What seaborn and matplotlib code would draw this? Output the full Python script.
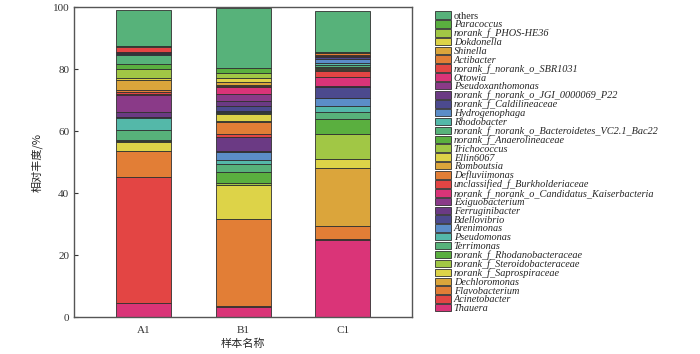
import numpy as np
import pandas as pd
import matplotlib
matplotlib.use("Agg")
import matplotlib.pyplot as plt
import seaborn as sns
from matplotlib.patches import Patch

# stack order, bottom -> top
taxa = ["Thauera", "Acinetobacter", "Flavobacterium", "Dechloromonas",
        "norank_f_Saprospiraceae", "norank_f_Steroidobacteraceae",
        "norank_f_Rhodanobacteraceae", "Terrimonas", "Pseudomonas", "Arenimonas",
        "Bdellovibrio", "Ferruginibacter", "Exiguobacterium",
        "norank_f_norank_o_Candidatus_Kaiserbacteria",
        "unclassified_f_Burkholderiaceae", "Defluviimonas", "Romboutsia",
        "Ellin6067", "Trichococcus", "norank_f_Anaerolineaceae",
        "norank_f_norank_o_Bacteroidetes_VC2.1_Bac22", "Rhodobacter",
        "Hydrogenophaga", "norank_f_Caldilineaceae",
        "norank_f_norank_o_JGI_0000069_P22", "Pseudoxanthomonas", "Ottowia",
        "norank_f_norank_o_SBR1031", "Actibacter", "Shinella", "Dokdonella",
        "norank_f_PHOS-HE36", "Paracoccus", "others"]

samples = ["A1", "B1", "C1"]

A1 = [4.6, 40.6, 8.5, 0.1, 2.9, 0.2, 0.3, 3.3, 3.9, 0.1, 0.1, 1.8, 5.4, 0.2,
      0.8, 0.6, 3.3, 0.6, 2.7, 1.9, 2.8, 0.1, 0.1, 0.4, 0.2, 0.1, 0.1, 1.4,
      0.1, 0.1, 0.1, 0.1, 0.1, 11.6]
B1 = [3.3, 0.3, 28.0, 0.1, 11.0, 0.5, 3.8, 2.4, 1.5, 2.4, 0.3, 4.5, 0.1, 0.1,
      1.0, 3.8, 0.3, 2.2, 0.3, 0.2, 0.2, 0.1, 0.2, 1.7, 1.6, 2.1, 2.2, 0.4,
      0.4, 0.8, 1.5, 1.6, 1.7, 19.1]
C1 = [24.9, 0.5, 4.1, 18.6, 3.0, 8.2, 4.6, 2.4, 2.0, 2.6, 3.3, 0.2, 0.1, 3.2,
      1.8, 0.2, 0.3, 0.6, 0.1, 0.1, 0.6, 0.7, 1.2, 0.8, 0.1, 0.1, 0.1, 0.1,
      0.7, 0.1, 0.1, 0.1, 0.2, 13.3]

base_colors = ["#DA3478", "#E34544", "#E27E36", "#DBA53B", "#DDD348",
               "#A1C745", "#5AAF3F", "#57B27A", "#54B8A9", "#5B8DC8",
               "#4C4A8E", "#6B3A84", "#8A3A88"]
colors = [base_colors[i % len(base_colors)] for i in range(len(taxa))]

df = pd.DataFrame({"A1": A1, "B1": B1, "C1": C1}, index=taxa)

sns.set_theme(style="ticks")
plt.rcParams["font.family"] = ["Liberation Serif", "Noto Sans CJK SC"]

fig = plt.figure(figsize=(7, 3.54), dpi=100)
ax = fig.add_axes([0.106, 0.1037, 0.483, 0.8753])

bottom = np.zeros(len(samples))
for i, t in enumerate(taxa):
    vals = df.loc[t, samples].values
    sns.barplot(x=samples, y=vals, bottom=bottom, color=colors[i],
                width=0.55, errorbar=None, edgecolor="#303030",
                linewidth=0.6, saturation=1, ax=ax)
    bottom = bottom + vals

ax.set_xlim(-0.7, 2.7)
ax.set_ylim(0, 100)
ax.set_yticks([0, 20, 40, 60, 80, 100])
ax.tick_params(direction="in", labelsize=8, length=3, width=0.8, colors="#333333")
ax.tick_params(axis="x", pad=6)
for s in ax.spines.values():
    s.set_visible(True)
    s.set_color("#555555")
    s.set_linewidth(1.0)

ax.set_ylabel("相对丰度/%", fontsize=8, family=["Noto Sans CJK SC"], labelpad=7)
ax.set_xlabel("样本名称", fontsize=8, family=["Noto Sans CJK SC"], labelpad=3)

handles = [Patch(facecolor=colors[i], edgecolor="#303030", linewidth=0.6,
                 label=taxa[i]) for i in range(len(taxa) - 1, -1, -1)]
leg = fig.legend(handles=handles, loc="upper left",
                 bbox_to_anchor=(0.621, 0.968), frameon=False, fontsize=7.4,
                 labelspacing=-0.06, handlelength=1.55, handleheight=0.75,
                 handletextpad=0.3, borderaxespad=0, borderpad=0)
for txt in leg.get_texts():
    if txt.get_text() != "others":
        txt.set_fontstyle("italic")

fig.savefig("out.png", dpi=100)
